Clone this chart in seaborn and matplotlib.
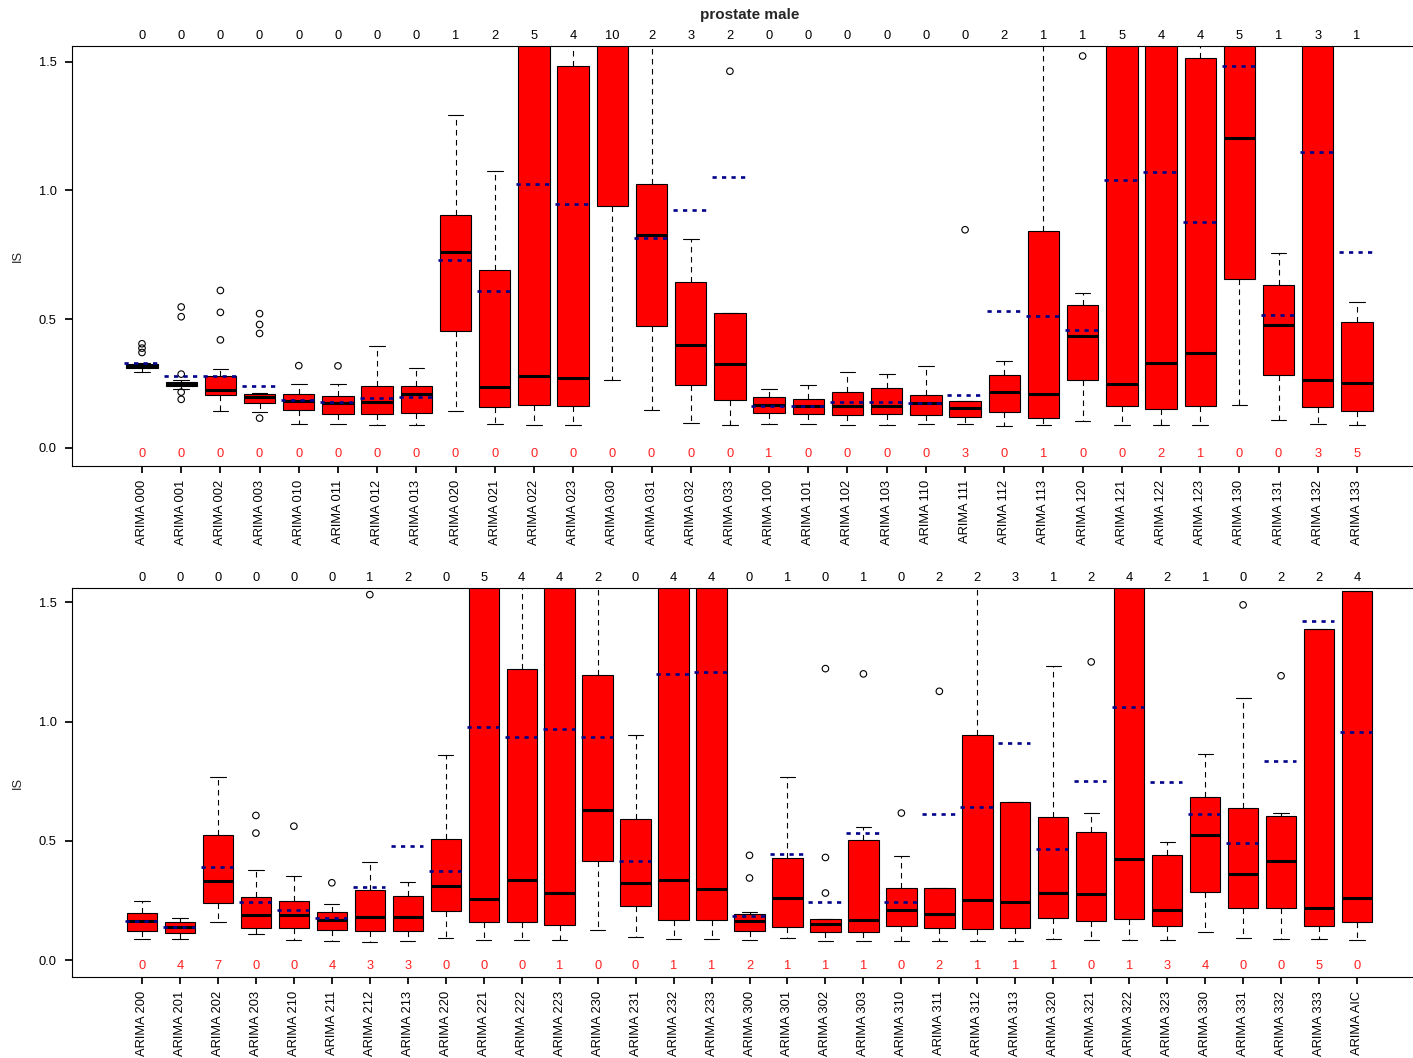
import numpy as np
import pandas as pd
import matplotlib
matplotlib.use("Agg")
import matplotlib.pyplot as plt
import matplotlib.transforms as mtransforms
import seaborn as sns

sns.set_theme(style="ticks")
plt.rcParams["font.family"] = ["Liberation Sans", "DejaVu Sans"]
plt.rcParams["font.size"] = 9.3

# ---------------- top panel data ----------------
cats_top = ["ARIMA 000", "ARIMA 001", "ARIMA 002", "ARIMA 003", "ARIMA 010", "ARIMA 011",
            "ARIMA 012", "ARIMA 013", "ARIMA 020", "ARIMA 021", "ARIMA 022", "ARIMA 023",
            "ARIMA 030", "ARIMA 031", "ARIMA 032", "ARIMA 033", "ARIMA 100", "ARIMA 101",
            "ARIMA 102", "ARIMA 103", "ARIMA 110", "ARIMA 111", "ARIMA 112", "ARIMA 113",
            "ARIMA 120", "ARIMA 121", "ARIMA 122", "ARIMA 123", "ARIMA 130", "ARIMA 131",
            "ARIMA 132", "ARIMA 133"]
lo_top = [0.295, 0.227, 0.143, 0.139, 0.092, 0.092, 0.087, 0.087, 0.143, 0.094, 0.087, 0.087,
          0.264, 0.147, 0.097, 0.089, 0.091, 0.091, 0.087, 0.087, 0.091, 0.091, 0.083, 0.087,
          0.105, 0.087, 0.087, 0.087, 0.167, 0.108, 0.091, 0.087]
q1_top = [0.310, 0.238, 0.205, 0.172, 0.148, 0.133, 0.131, 0.135, 0.454, 0.159, 0.166, 0.162,
          0.939, 0.472, 0.245, 0.185, 0.135, 0.131, 0.127, 0.133, 0.128, 0.119, 0.140, 0.115,
          0.262, 0.164, 0.150, 0.161, 0.657, 0.281, 0.159, 0.141]
med_top = [0.316, 0.246, 0.224, 0.196, 0.183, 0.172, 0.179, 0.207, 0.759, 0.236, 0.277, 0.272,
           1.800, 0.825, 0.400, 0.324, 0.167, 0.164, 0.164, 0.161, 0.172, 0.154, 0.216, 0.210,
           0.434, 0.248, 0.328, 0.367, 1.204, 0.478, 0.263, 0.251]
q3_top = [0.325, 0.254, 0.280, 0.210, 0.207, 0.202, 0.240, 0.240, 0.903, 0.691, 1.900, 1.482,
          2.400, 1.023, 0.644, 0.522, 0.196, 0.188, 0.215, 0.232, 0.205, 0.180, 0.284, 0.842,
          0.555, 1.900, 1.900, 1.514, 1.800, 0.634, 1.900, 0.490]
hi_top = [0.330, 0.262, 0.304, 0.213, 0.246, 0.249, 0.394, 0.310, 1.292, 1.076, 2.400, 2.000,
          3.000, 1.900, 0.811, 0.522, 0.228, 0.242, 0.295, 0.288, 0.316, 0.182, 0.337, 1.900,
          0.601, 2.400, 2.400, 2.000, 2.400, 0.757, 2.400, 0.565]
mean_top = [0.328, 0.279, 0.279, 0.240, 0.185, 0.176, 0.192, 0.196, 0.731, 0.609, 1.026, 0.946,
            2.200, 0.815, 0.925, 1.053, 0.164, 0.164, 0.176, 0.179, 0.172, 0.203, 0.532, 0.510,
            0.459, 1.042, 1.071, 0.878, 1.483, 0.514, 1.149, 0.762]
outliers_top = {
    "ARIMA 000": [0.404, 0.387, 0.370],
    "ARIMA 001": [0.547, 0.509, 0.286, 0.216, 0.188],
    "ARIMA 002": [0.611, 0.526, 0.419],
    "ARIMA 003": [0.521, 0.479, 0.444, 0.115],
    "ARIMA 010": [0.319],
    "ARIMA 011": [0.318],
    "ARIMA 033": [1.463],
    "ARIMA 111": [0.847],
    "ARIMA 120": [1.522],
}
above_top = [0, 0, 0, 0, 0, 0, 0, 0, 1, 2, 5, 4, 10, 2, 3, 2, 0, 0, 0, 0, 0, 0, 2, 1, 1, 5, 4, 4,
             5, 1, 3, 1]
below_top = [0, 0, 0, 0, 0, 0, 0, 0, 0, 0, 0, 0, 0, 0, 0, 0, 1, 0, 0, 0, 0, 3, 0, 1, 0, 0, 2, 1,
             0, 0, 3, 5]

# ---------------- bottom panel data ----------------
cats_bot = ["ARIMA 200", "ARIMA 201", "ARIMA 202", "ARIMA 203", "ARIMA 210", "ARIMA 211",
            "ARIMA 212", "ARIMA 213", "ARIMA 220", "ARIMA 221", "ARIMA 222", "ARIMA 223",
            "ARIMA 230", "ARIMA 231", "ARIMA 232", "ARIMA 233", "ARIMA 300", "ARIMA 301",
            "ARIMA 302", "ARIMA 303", "ARIMA 310", "ARIMA 311", "ARIMA 312", "ARIMA 313",
            "ARIMA 320", "ARIMA 321", "ARIMA 322", "ARIMA 323", "ARIMA 330", "ARIMA 331",
            "ARIMA 332", "ARIMA 333", "ARIMA AIC"]
lo_bot = [0.088, 0.088, 0.160, 0.109, 0.087, 0.082, 0.077, 0.082, 0.092, 0.085, 0.085, 0.085,
          0.126, 0.096, 0.088, 0.088, 0.085, 0.093, 0.082, 0.082, 0.082, 0.082, 0.082, 0.082,
          0.089, 0.085, 0.085, 0.084, 0.119, 0.093, 0.088, 0.088, 0.085]
q1_bot = [0.123, 0.114, 0.241, 0.137, 0.135, 0.127, 0.123, 0.123, 0.208, 0.160, 0.159, 0.147,
          0.417, 0.227, 0.170, 0.167, 0.124, 0.138, 0.117, 0.120, 0.145, 0.135, 0.133, 0.135,
          0.179, 0.166, 0.172, 0.142, 0.286, 0.218, 0.218, 0.144, 0.162]
med_bot = [0.163, 0.139, 0.334, 0.190, 0.191, 0.169, 0.181, 0.180, 0.311, 0.257, 0.338, 0.283,
           0.628, 0.322, 0.335, 0.300, 0.163, 0.262, 0.152, 0.167, 0.209, 0.193, 0.251, 0.246,
           0.282, 0.280, 0.423, 0.211, 0.527, 0.363, 0.416, 0.218, 0.262]
q3_bot = [0.200, 0.162, 0.526, 0.265, 0.250, 0.201, 0.293, 0.268, 0.509, 1.900, 1.221, 1.900,
          1.197, 0.594, 1.900, 1.900, 0.193, 0.428, 0.174, 0.506, 0.301, 0.303, 0.945, 0.664,
          0.600, 0.536, 1.900, 0.442, 0.684, 0.640, 0.603, 1.390, 1.546]
hi_bot = [0.248, 0.177, 0.770, 0.380, 0.353, 0.234, 0.412, 0.328, 0.861, 2.400, 2.000, 2.400,
          2.000, 0.946, 2.400, 2.400, 0.201, 0.770, 0.174, 0.560, 0.438, 0.303, 2.000, 0.664,
          1.231, 0.618, 2.400, 0.495, 0.865, 1.098, 0.617, 1.390, 1.546]
mean_bot = [0.165, 0.138, 0.391, 0.244, 0.213, 0.176, 0.306, 0.478, 0.374, 0.979, 0.935, 0.971,
            0.935, 0.417, 1.198, 1.206, 0.186, 0.444, 0.244, 0.533, 0.246, 0.614, 0.643, 0.910,
            0.467, 0.750, 1.063, 0.745, 0.615, 0.493, 0.833, 1.422, 0.956]
outliers_bot = {
    "ARIMA 203": [0.607, 0.533],
    "ARIMA 210": [0.562],
    "ARIMA 211": [0.325],
    "ARIMA 212": [1.532],
    "ARIMA 300": [0.440, 0.345],
    "ARIMA 302": [1.222, 0.431, 0.282],
    "ARIMA 303": [1.200],
    "ARIMA 310": [0.617],
    "ARIMA 311": [1.127],
    "ARIMA 321": [1.250],
    "ARIMA 331": [1.489],
    "ARIMA 332": [1.192],
}
above_bot = [0, 0, 0, 0, 0, 0, 1, 2, 0, 5, 4, 4, 2, 0, 4, 4, 0, 1, 0, 1, 0, 2, 2, 3, 1, 2, 4, 2,
             1, 0, 2, 2, 4]
below_bot = [0, 4, 7, 0, 0, 4, 3, 3, 0, 0, 0, 1, 0, 0, 1, 1, 2, 1, 1, 1, 0, 2, 1, 1, 1, 0, 1, 3,
             4, 0, 0, 5, 0]

y_ticks = [0.0, 0.5, 1.0, 1.5]
y_ticklabels = ["0.0", "0.5", "1.0", "1.5"]
FS = 9.3


def draw_panel(ax, cats, lo, q1, med, q3, hi, means, outliers, above, below):
    n = len(cats)
    stats = np.column_stack([lo, q1, med, q3, hi])
    df = pd.DataFrame({"model": np.repeat(cats, 5), "IS": stats.ravel()})
    sns.boxplot(data=df, x="model", y="IS", order=cats, whis=(0, 100), showfliers=False,
                width=0.8, color="#FF0000", saturation=1, linecolor="black", linewidth=0.8,
                medianprops=dict(color="black", linewidth=2.2),
                whiskerprops=dict(color="black", linewidth=0.8, linestyle=(0, (5, 4))),
                capprops=dict(color="black", linewidth=0.8),
                boxprops=dict(edgecolor="black", linewidth=0.8),
                ax=ax)

    out_df = pd.DataFrame([(c, v) for c, vals in outliers.items() for v in vals],
                          columns=["model", "IS"])
    n_before = len(ax.collections)
    sns.stripplot(data=out_df, x="model", y="IS", order=cats, jitter=False, color="white",
                  edgecolor="black", linewidth=0.8, size=4.7, ax=ax, zorder=5)
    for coll in ax.collections[n_before:]:
        coll.set_facecolor("none")
        coll.set_edgecolor("black")

    x_idx = np.arange(n)
    ax.hlines(means, x_idx - 0.45, x_idx + 0.40, colors="#00008B", linewidth=1.9,
              linestyles=[(0, (1.6, 2.0))], zorder=6)

    trans = mtransforms.blended_transform_factory(ax.transData, ax.transAxes)
    for i, (a, b) in enumerate(zip(above, below)):
        ax.text(i, 1.024, str(a), transform=trans, ha="center", va="center",
                fontsize=FS, color="black")
        ax.text(i, -0.023, str(b), ha="center", va="center", fontsize=FS, color="#FF2020")

    ax.set_ylim(-0.071, 1.561)
    ax.set_yticks(y_ticks)
    ax.set_yticklabels(y_ticklabels)
    left = -70 / ((1357 - 142) / (n - 1))
    ax.set_xlim(left, (n - 1) - left)
    ax.set_xlabel("")
    ax.set_ylabel("IS", va="center", fontsize=FS)
    ax.yaxis.set_label_coords(-54 / 1355, 0.5)
    ax.tick_params(axis="x", labelrotation=90, length=5, pad=5, colors="black", labelsize=FS)
    ax.tick_params(axis="y", length=5, pad=6, colors="black", labelsize=FS)
    for s in ["left", "top", "bottom", "right"]:
        ax.spines[s].set_visible(True)
        ax.spines[s].set_color("black")
        ax.spines[s].set_linewidth(0.8)


W, H = 1413, 1058
fig = plt.figure(figsize=(W / 100, H / 100), dpi=100)
ax1 = fig.add_axes([72 / W, 1 - 466 / H, (1427 - 72) / W, 420 / H])
ax2 = fig.add_axes([72 / W, 1 - 977.3 / H, (1427 - 72) / W, 389.6 / H])

draw_panel(ax1, cats_top, lo_top, q1_top, med_top, q3_top, hi_top, mean_top, outliers_top,
           above_top, below_top)
draw_panel(ax2, cats_bot, lo_bot, q1_bot, med_bot, q3_bot, hi_bot, mean_bot, outliers_bot,
           above_bot, below_bot)

fig.text(749.5 / W, 1 - 15 / H, "prostate male", ha="center", va="center",
         fontweight="bold", fontsize=11)

fig.savefig("out.png", dpi=100)
